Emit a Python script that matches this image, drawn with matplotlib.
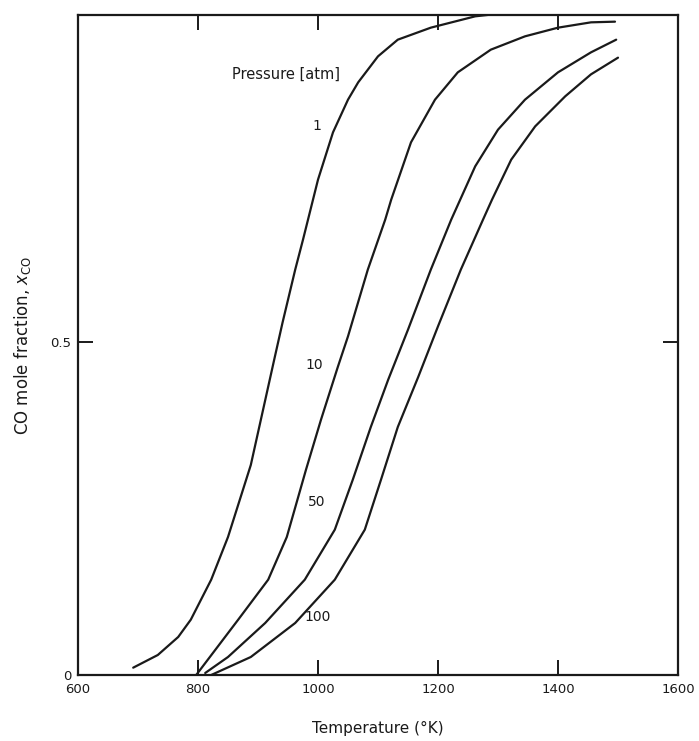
import matplotlib
matplotlib.use("Agg")
import matplotlib.pyplot as plt

# CO mole fraction vs temperature
T_1 = [692, 733, 767, 788, 822, 850, 888, 927, 941, 962, 975, 1000, 1025,
       1050, 1067, 1100, 1133, 1188, 1262, 1292]
x_1 = [0.011, 0.030, 0.057, 0.083, 0.143, 0.207, 0.315, 0.473, 0.529, 0.608,
       0.653, 0.743, 0.814, 0.863, 0.889, 0.928, 0.953, 0.971, 0.988, 0.991]

T_10 = [797, 867, 917, 948, 980, 1005, 1033, 1050, 1083, 1112, 1122,
        1155, 1195, 1233, 1288, 1345, 1400, 1455, 1495]
x_10 = [0.0, 0.083, 0.143, 0.207, 0.308, 0.383, 0.462, 0.508, 0.608,
        0.683, 0.713, 0.799, 0.863, 0.904, 0.938, 0.958, 0.971, 0.979, 0.980]

T_50 = [812, 850, 912, 978, 1028, 1058, 1088, 1117, 1150, 1188, 1222, 1237,
        1262, 1300, 1345, 1400, 1455, 1497]
x_50 = [0.003, 0.027, 0.078, 0.143, 0.218, 0.293, 0.372, 0.443, 0.518, 0.608,
        0.683, 0.713, 0.763, 0.818, 0.863, 0.904, 0.934, 0.953]

T_100 = [822, 888, 962, 1028, 1078, 1105, 1133, 1167, 1200, 1238, 1275,
         1290, 1322, 1362, 1412, 1455, 1500]
x_100 = [0.0, 0.027, 0.078, 0.143, 0.218, 0.293, 0.372, 0.447, 0.523,
         0.608, 0.683, 0.713, 0.773, 0.823, 0.868, 0.901, 0.926]

curves = [(T_1, x_1), (T_10, x_10), (T_50, x_50), (T_100, x_100)]

# pressure labels: text, T, x
labels = [("1", 1005, 0.823), ("10", 1008, 0.465),
          ("50", 1012, 0.260), ("100", 1022, 0.087)]

x_ticks = [600, 800, 1000, 1200, 1400, 1600]
y_ticks = [0, 0.5]
y_tick_labels = ["0", "0.5"]

ink = "#1a1a1a"

fig = plt.figure(figsize=(6.99, 7.41), dpi=100)
ax = fig.add_axes([78 / 699, 66 / 741, 600 / 699, 660 / 741])

for T, x in curves:
    ax.plot(T, x, color=ink, linewidth=1.6, solid_capstyle="round",
            solid_joinstyle="round")

for txt, T, x in labels:
    ax.text(T, x, txt, fontsize=10, ha="right", va="center", color=ink)

ax.text(947, 0.901, "Pressure [atm]", fontsize=10.5, ha="center", va="center",
        color=ink)

ax.set_xlim(600, 1600)
ax.set_ylim(0, 0.99)
ax.set_xticks(x_ticks)
ax.set_yticks(y_ticks)
ax.set_yticklabels(y_tick_labels)
ax.tick_params(axis="both", direction="in", length=11, width=1.4,
               top=True, right=True, labelsize=9.5, pad=6, colors=ink)
ax.tick_params(axis="y", pad=5)
for s in ax.spines.values():
    s.set_linewidth(1.6)
    s.set_color(ink)

ax.set_xlabel("Temperature (°K)", fontsize=11, labelpad=18, color=ink)
ax.set_ylabel(r"CO mole fraction, $x_{\mathrm{CO}}$", fontsize=12, labelpad=12,
              color=ink)

fig.savefig("out.png", dpi=100)
